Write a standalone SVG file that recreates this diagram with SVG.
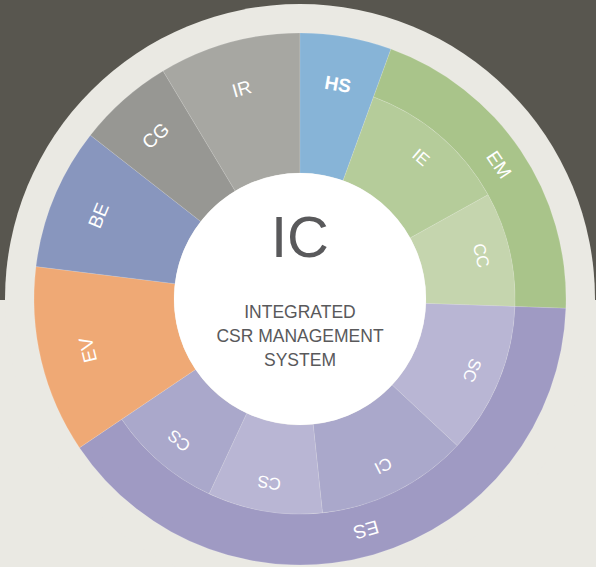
<svg xmlns="http://www.w3.org/2000/svg" width="596" height="567" viewBox="0 0 596 567">
<style>
.seg{stroke:#ffffff;stroke-opacity:0.18;stroke-width:0.7}
.lbl{font-family:"Liberation Sans",Arial,Helvetica,sans-serif;fill:#ffffff;text-anchor:middle;dominant-baseline:central}
.big{font-size:19px}
.sm{font-size:17px}
.ctr{font-family:"Liberation Sans",Arial,Helvetica,sans-serif;fill:#59595b;text-anchor:middle}
</style>
<rect x="0" y="0" width="596" height="300" fill="#58564f"/>
<rect x="0" y="300" width="596" height="267" fill="#eae9e3"/>
<circle cx="300" cy="299" r="295" fill="#eae9e3"/>

<g id="IR"><path class="seg" fill="#a7a7a2" d="M 163.00 70.99 A 266 266 0 0 1 300 33 L 300 173 A 126 126 0 0 0 235.10 191.00 Z"/>
<text class="lbl big" transform="translate(241.74 88.93) rotate(-15.5)">IR</text></g>
<g id="HS"><path class="seg" fill="#87b4d7" d="M 300 33 A 266 266 0 0 1 390.98 49.04 L 343.09 180.60 A 126 126 0 0 0 300 173 Z"/>
<text class="lbl big" font-weight="bold" transform="translate(337.86 84.31) rotate(10)">HS</text></g>
<g id="EM"><path class="seg" fill="#a9c48a" d="M 390.98 49.04 A 266 266 0 0 1 565.84 308.28 L 514.87 306.50 A 215 215 0 0 0 373.53 96.97 Z"/>
<text class="lbl big" transform="translate(498.97 164.79) rotate(56)">EM</text></g>
<g id="IE"><path class="seg" fill="#b5cc9a" d="M 373.53 96.97 A 215 215 0 0 1 488.04 194.77 L 410.20 237.91 A 126 126 0 0 0 343.09 180.60 Z"/>
<text class="lbl sm" transform="translate(420.80 157.56) rotate(40.5)">IE</text></g>
<g id="CC"><path class="seg" fill="#c5d5ae" d="M 488.04 194.77 A 215 215 0 0 1 514.87 306.50 L 425.92 303.40 A 126 126 0 0 0 410.20 237.91 Z"/>
<text class="lbl sm" transform="translate(480.86 255.58) rotate(76.5)">CC</text></g>
<g id="ES"><path class="seg" fill="#9f9ac3" d="M 565.84 308.28 A 266 266 0 0 1 79.48 447.74 L 121.76 419.23 A 215 215 0 0 0 514.87 306.50 Z"/>
<text class="lbl big" transform="translate(366.15 529.70) rotate(164)">ES</text></g>
<g id="SC"><path class="seg" fill="#b9b6d4" d="M 514.87 306.50 A 215 215 0 0 1 457.24 445.63 L 392.15 384.93 A 126 126 0 0 0 425.92 303.40 Z"/>
<text class="lbl sm" transform="translate(471.84 370.18) rotate(112.5)">SC</text></g>
<g id="CI"><path class="seg" fill="#aaa8cb" d="M 457.24 445.63 A 215 215 0 0 1 322.47 512.82 L 313.17 424.31 A 126 126 0 0 0 392.15 384.93 Z"/>
<text class="lbl sm" transform="translate(382.99 465.46) rotate(153.5)">CI</text></g>
<g id="CS1"><path class="seg" fill="#b9b6d4" d="M 322.47 512.82 A 215 215 0 0 1 209.14 493.86 L 246.75 413.20 A 126 126 0 0 0 313.17 424.31 Z"/>
<text class="lbl sm" transform="translate(269.30 482.45) rotate(189.5)">CS</text></g>
<g id="CS2"><path class="seg" fill="#aaa8cb" d="M 209.14 493.86 A 215 215 0 0 1 121.76 419.23 L 195.54 369.46 A 126 126 0 0 0 246.75 413.20 Z"/>
<text class="lbl sm" transform="translate(179.20 440.44) rotate(220.5)">CS</text></g>
<g id="EV"><path class="seg" fill="#efa975" d="M 79.48 447.74 A 266 266 0 0 1 35.98 266.58 L 174.94 283.64 A 126 126 0 0 0 195.54 369.46 Z"/>
<text class="lbl big" transform="translate(88.02 349.89) rotate(256.5)">EV</text></g>
<g id="BE"><path class="seg" fill="#8896be" d="M 35.98 266.58 A 266 266 0 0 1 90.39 135.23 L 200.71 221.43 A 126 126 0 0 0 174.94 283.64 Z"/>
<text class="lbl big" transform="translate(98.59 215.58) rotate(-67.5)">BE</text></g>
<g id="CG"><path class="seg" fill="#979793" d="M 90.39 135.23 A 266 266 0 0 1 163.00 70.99 L 235.10 191.00 A 126 126 0 0 0 200.71 221.43 Z"/>
<text class="lbl big" transform="translate(155.55 135.73) rotate(-41.5)">CG</text></g>

<g id="IC">
<circle cx="300" cy="299" r="126" fill="#ffffff"/>
<text class="ctr" x="300" y="257" font-size="58">IC</text>
<text class="ctr" x="300" y="318" font-size="17.5">INTEGRATED</text>
<text class="ctr" x="300" y="342" font-size="17.5">CSR MANAGEMENT</text>
<text class="ctr" x="300" y="366" font-size="17.5">SYSTEM</text>
</g>
</svg>
